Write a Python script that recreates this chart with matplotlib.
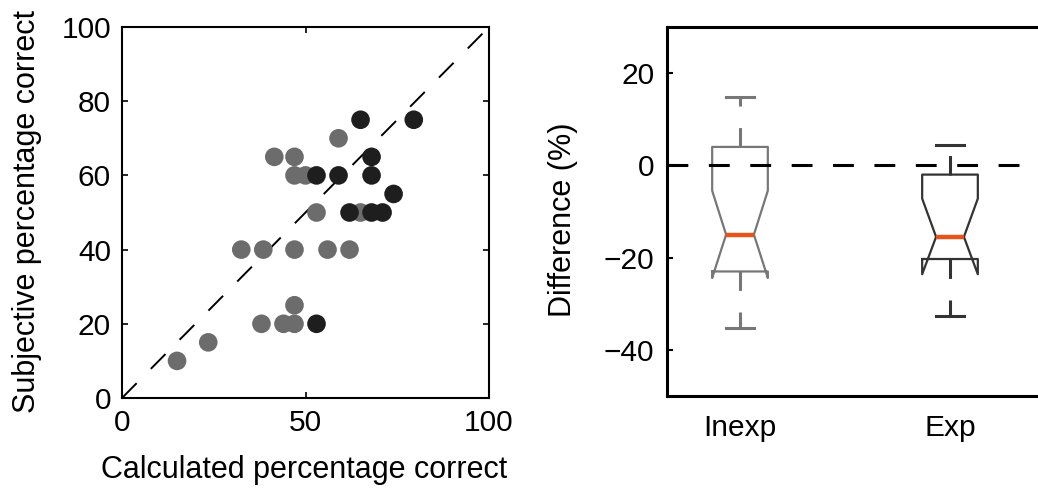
import matplotlib
matplotlib.use("Agg")
import matplotlib.pyplot as plt

plt.rcParams['font.family'] = ['Liberation Sans', 'DejaVu Sans']
plt.rcParams['lines.scale_dashes'] = False

# ---- Data: left scatter (calculated vs subjective % correct) ----
inexp_calc = [15, 23.5, 38, 44, 47, 47, 32.5, 38.5, 47, 56, 62, 53, 65, 41.5, 47, 47, 50, 59]
inexp_subj = [10, 15, 20, 20, 20, 25, 40, 40, 40, 40, 40, 50, 50, 65, 65, 60, 60, 70]
exp_calc = [53, 59, 68, 68, 65, 79.5, 74, 62, 68, 71, 53]
exp_subj = [60, 60, 60, 65, 75, 75, 55, 50, 50, 50, 20]

# ---- Data: right notched boxplots of difference (%) ----
groups = ["Inexp", "Exp"]
medians = [-15.0, -15.5]
q1s = [-23.0, -20.3]
q3s = [4.0, -2.0]
whislos = [-35.3, -32.6]
whishis = [14.8, 4.4]
cilos = [-24.4, -23.6]
cihis = [-5.5, -7.2]

W, H = 1038, 490
fig = plt.figure(figsize=(W / 100, H / 100), dpi=100)

FS = 22
TFS = 21.5

# ---------------- Left panel ----------------
axL = fig.add_axes([122 / W, (H - 398) / H, 367 / W, 371 / H])
axL.plot([0, 100], [0, 100], color='black', lw=1.4, linestyle=(0, (15, 14.5)), zorder=1)
axL.scatter(inexp_calc, inexp_subj, s=180, color='#6c6c6c', edgecolors='none', zorder=2)
axL.scatter(exp_calc, exp_subj, s=180, color='#1e1e1e', edgecolors='none', zorder=3)
axL.set_xlim(0, 100)
axL.set_ylim(0, 100)
axL.set_xticks([0, 50, 100])
axL.set_yticks([0, 20, 40, 60, 80, 100])
axL.tick_params(direction='in', length=4, width=1.2, top=True, right=True,
                labelsize=TFS, pad=8)
for sp in axL.spines.values():
    sp.set_linewidth(1.5)
axL.set_xlabel("Calculated percentage correct", fontsize=FS)
axL.set_ylabel("Subjective percentage correct", fontsize=FS)
axL.xaxis.set_label_coords(0.495, -0.195)
axL.xaxis.label.set_va('center')
axL.yaxis.set_label_coords(-0.258, 0.504)
axL.yaxis.label.set_va('center')

# ---------------- Right panel ----------------
x0 = 667
x1 = 1060
axR = fig.add_axes([x0 / W, (H - 396) / H, (x1 - x0) / W, 369 / H])
box_colors = ['#777777', '#333333']
for i, g in enumerate(groups):
    st = [dict(med=medians[i], q1=q1s[i], q3=q3s[i], whislo=whislos[i], whishi=whishis[i],
               cilo=cilos[i], cihi=cihis[i], fliers=[], label=g)]
    c = box_colors[i]
    axR.bxp(st, positions=[i + 1], widths=0.265, shownotches=True, showfliers=False,
            boxprops=dict(color=c, lw=1.6),
            whiskerprops=dict(color=c, lw=2.2, linestyle=(0, (14, 15.5))),
            capprops=dict(color=c, lw=2.2),
            medianprops=dict(color='#e8531c', lw=3.2),
            manage_ticks=False)
axR.axhline(0, color='black', lw=2.2, linestyle=(0, (15, 14.8)), zorder=5)
axR.set_xlim(1 - (740 - x0) / 210, 1 + (x1 - 740) / 210)
axR.set_ylim(-50, 30)
axR.set_yticks([-40, -20, 0, 20])
axR.set_xticks([1, 2])
axR.set_xticklabels(groups)
axR.tick_params(axis='y', direction='in', length=4, width=1.5, labelsize=TFS, pad=9,
                right=False)
axR.tick_params(axis='x', length=0, labelsize=TFS, pad=13)
for sp in axR.spines.values():
    sp.set_linewidth(2.2)
axR.set_ylabel("Difference (%)", fontsize=FS)
axR.yaxis.set_label_coords(-0.264, 0.477)
axR.yaxis.label.set_va('center')

fig.savefig("out.png", dpi=100)
